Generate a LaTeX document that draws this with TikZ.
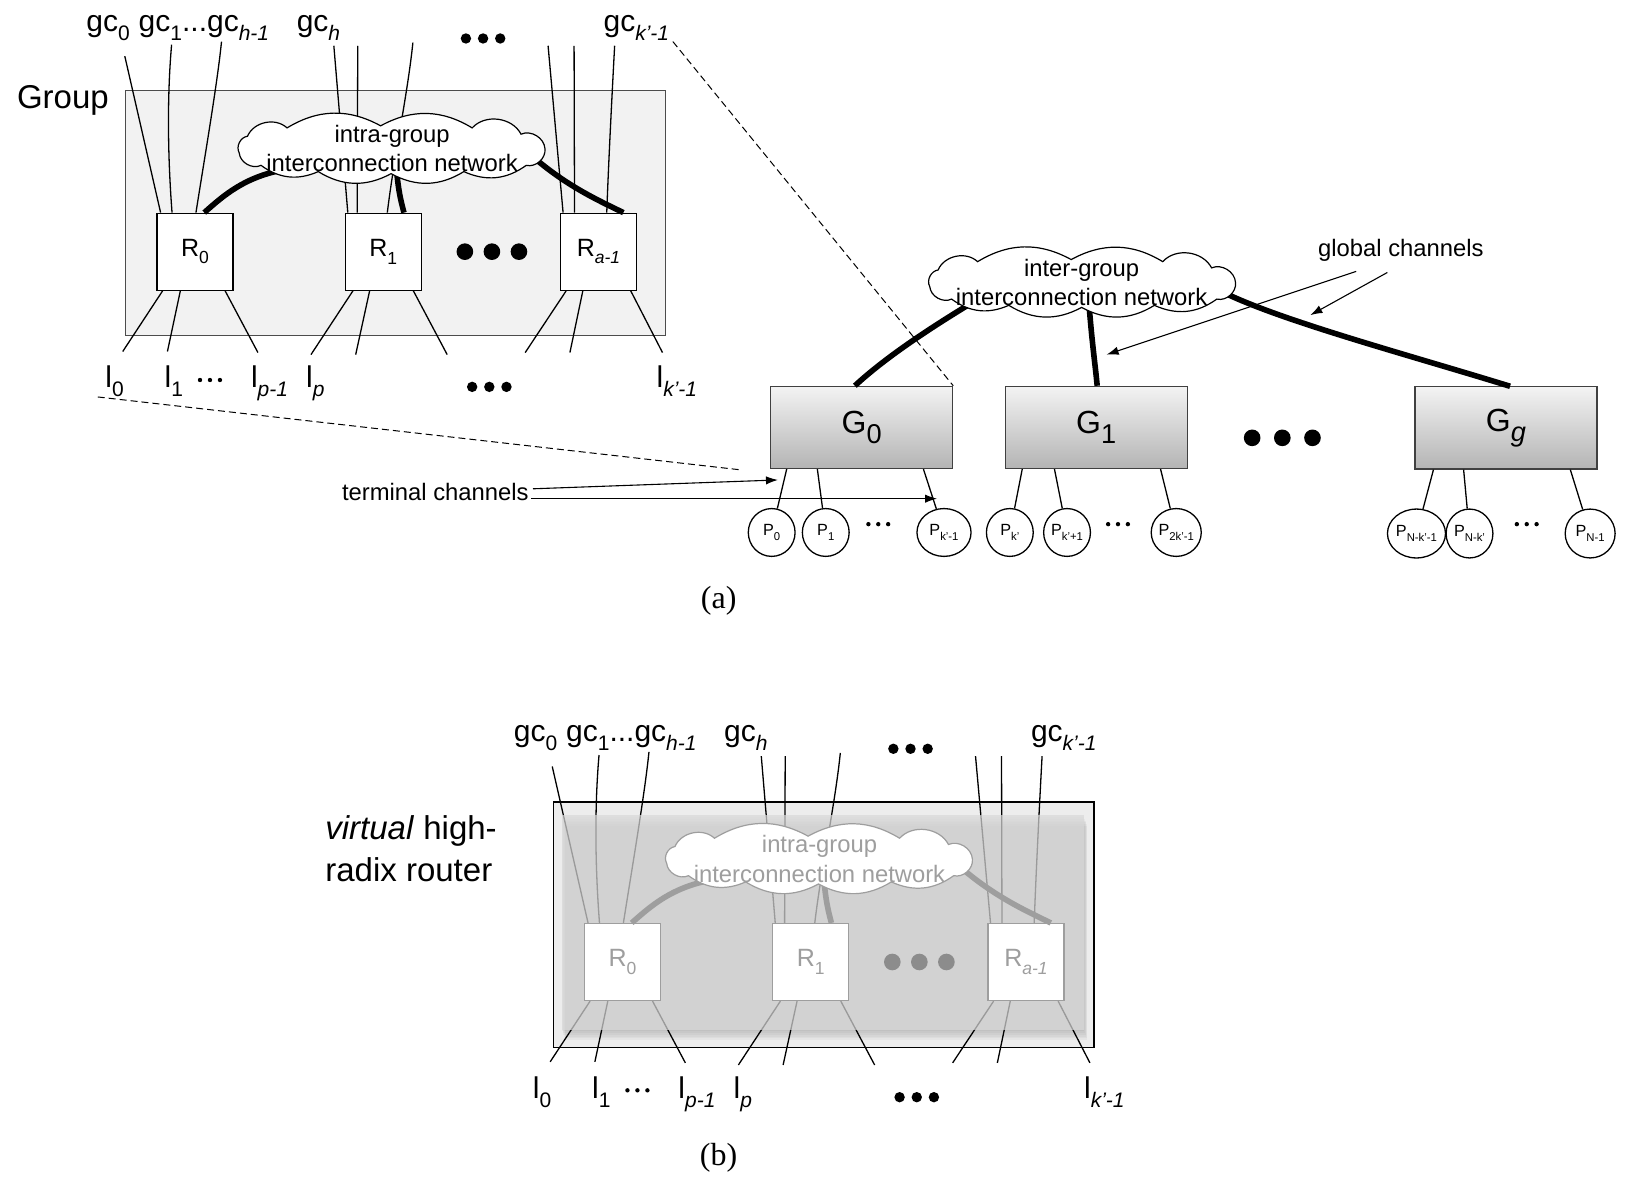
\documentclass[tikz,border=0pt]{standalone}
\usepackage{fontspec}
\setmainfont{Liberation Sans}
\newfontfamily\capfont{Liberation Serif}
\usetikzlibrary{shapes.geometric,arrows.meta,calc}
\pgfdeclarelayer{bg}
\pgfdeclarelayer{ovl}
\pgfdeclarelayer{fg}
\pgfsetlayers{bg,main,ovl,fg}
\newcommand*\upx{0.52pt}
\newcommand\dsub[1]{\raisebox{-0.3em}{\scalebox{0.7}{#1}}}
\newcommand\gsub[1]{\raisebox{-0.3em}{\scalebox{0.85}{#1}}}
\definecolor{grpfill}{HTML}{F2F2F2}
\definecolor{gtop}{HTML}{F3F3F3}
\definecolor{gbot}{HTML}{B4B4B4}
\definecolor{fadegray}{HTML}{9E9E9E}
\definecolor{dotgray}{HTML}{8C8C8C}
\definecolor{outerfill}{HTML}{EDEDED}
\definecolor{ovlfill}{HTML}{D9D9D9}
\tikzset{
  lbl/.style={inner sep=0, font=\fontsize{15}{18}\selectfont},
  biglbl/.style={inner sep=0, font=\fontsize{16.5}{20}\selectfont},
  chtxt/.style={inner sep=0, font=\fontsize{11.9}{14.6}\selectfont},
  captxt/.style={inner sep=0, font=\capfont\fontsize{16}{19}\selectfont},
  routerA/.style={draw=black, line width=0.6pt, fill=white, minimum width=73*\upx, minimum height=74*\upx, inner sep=0, font=\fontsize{12.5}{15}\selectfont},
  routerB/.style={routerA, draw=fadegray, text=fadegray},
  linkA/.style={line width=2.8pt},
  linkB/.style={linkA, draw=fadegray},
  cloudA/.style={draw=black, line width=0.6pt, fill=white},
  cloudB/.style={cloudA, draw=fadegray},
  nettxtA/.style={align=center, inner sep=0, font=\fontsize{11.9}{14.6}\selectfont},
  nettxtB/.style={nettxtA, text=fadegray},
  dotA/.style={fill=black},
  dotB/.style={fill=dotgray},
  wire/.style={line width=0.65pt},
  arr/.style={line width=0.55pt, -{Latex[length=6pt,width=4.2pt]}},
  gbox/.style={draw=black!75, line width=0.6pt, top color=gtop, bottom color=gbot, minimum width=175*\upx, minimum height=79*\upx, inner sep=0, font=\fontsize{16}{19}\selectfont},
  pnode/.style={ellipse, draw, line width=0.65pt, fill=white, minimum width=45*\upx, minimum height=46*\upx, inner sep=0, font=\fontsize{8.1}{10}\selectfont},
  puff/.style={bend left=30},
  endpuff/.style={bend left=55},
}
% cloud outline: #1 style, #2 cx, #3 cy
\newcommand\dfcloud[3]{%
  \path[#1] ({#2-146},{#3+4})
    to[endpuff] ({#2-138},{#3-12})
    to[endpuff] ({#2-100},{#3-20})
    to[puff] ({#2-10},{#3-22})
    to[puff] ({#2+78},{#3-20})
    to[endpuff] ({#2+125},{#3-14})
    to[endpuff] ({#2+148},{#3})
    to[endpuff] ({#2+130},{#3+16})
    to[puff] ({#2+70},{#3+22})
    to[puff] ({#2},{#3+24})
    to[puff] ({#2-70},{#3+22})
    to[puff] ({#2-125},{#3+16})
    to[endpuff] ({#2-146},{#3+4}) -- cycle;
}
% #1 prefix, #2 style tag, #3 dx, #4 dy
\newcommand\dfgroup[4]{%
\begin{pgfonlayer}{fg}
  \node[router#2] (#1R0) at ({#3+187.5},{#4+242}) {R\dsub{0}};
  \node[router#2] (#1R1) at ({#3+368.5},{#4+242}) {R\dsub{1}};
  \node[router#2] (#1Ra) at ({#3+575.5},{#4+242}) {R\dsub{\itshape a-1}};
  \coordinate (#1k0) at ({#3+274},{#4+163});
  \coordinate (#1k1) at ({#3+381},{#4+160});
  \coordinate (#1k2) at ({#3+508},{#4+147});
  \draw[link#2] ($(#1R0.north west)+(46,0)$) .. controls ({#3+215},{#4+188}) and ({#3+235},{#4+170}) .. (#1k0);
  \draw[link#2] (#1k1) .. controls ({#3+383},{#4+185}) and ({#3+386},{#4+195}) .. ($(#1R1.north west)+(57,0)$);
  \draw[link#2] (#1k2) .. controls ({#3+540},{#4+175}) and ({#3+565},{#4+188}) .. ($(#1Ra.north west)+(61,0)$);
  \dfcloud{cloud#2}{#3+376}{#4+143}
  \node[nettxt#2] (#1clt) at ({#3+377},{#4+143}) {intra-group\\interconnection network};
  \fill[dot#2] ({#3+447},{#4+242}) circle[radius=8*\upx] ({#3+473},{#4+242}) circle[radius=8*\upx] ({#3+499},{#4+242}) circle[radius=8*\upx];
\end{pgfonlayer}
  \coordinate (#1t1) at ({#3+120},{#4+54});
  \coordinate (#1t2) at ({#3+165},{#4+43});
  \coordinate (#1t3) at ({#3+213},{#4+40});
  \coordinate (#1t4) at ({#3+321},{#4+44});
  \coordinate (#1t5) at ({#3+344},{#4+44});
  \coordinate (#1t6) at ({#3+397},{#4+41});
  \coordinate (#1t7) at ({#3+527},{#4+44});
  \coordinate (#1t8) at ({#3+552},{#4+44});
  \coordinate (#1t9) at ({#3+591},{#4+44});
  \draw[wire] (#1t1) -- ($(#1R0.north west)+(4,0)$);
  \draw[wire] (#1t2) .. controls ({#3+160},{#4+100}) and ({#3+162},{#4+160}) .. ($(#1R0.north west)+(15,0)$);
  \draw[wire] (#1t3) .. controls ({#3+209},{#4+80}) and ({#3+197},{#4+150}) .. ($(#1R0.north west)+(38,0)$);
  \draw[wire] (#1t4) -- ($(#1R1.north west)+(3,0)$);
  \draw[wire] (#1t5) -- ($(#1R1.north west)+(12,0)$);
  \draw[wire] (#1t6) .. controls ({#3+392},{#4+90}) and ({#3+379},{#4+150}) .. ($(#1R1.north west)+(41,0)$);
  \draw[wire] (#1t7) -- ($(#1Ra.north west)+(3,0)$);
  \draw[wire] (#1t8) -- ($(#1Ra.north west)+(14,0)$);
  \draw[wire] (#1t9) .. controls ({#3+588},{#4+100}) and ({#3+585},{#4+160}) .. ($(#1Ra.north west)+(45,0)$);
  \coordinate (#1b1) at ({#3+118},{#4+338});
  \coordinate (#1b2) at ({#3+161},{#4+338});
  \coordinate (#1b3) at ({#3+248},{#4+339});
  \coordinate (#1b4) at ({#3+299},{#4+341});
  \coordinate (#1b5) at ({#3+342},{#4+341});
  \coordinate (#1b6) at ({#3+430},{#4+341});
  \coordinate (#1b7) at ({#3+505},{#4+339});
  \coordinate (#1b8) at ({#3+548},{#4+339});
  \coordinate (#1b9) at ({#3+637},{#4+339});
  \draw[wire] ($(#1R0.south west)+(6,0)$) -- (#1b1);
  \draw[wire] ($(#1R0.south west)+(23,0)$) -- (#1b2);
  \draw[wire] ($(#1R0.south west)+(66,0)$) -- (#1b3);
  \draw[wire] ($(#1R1.south west)+(8,0)$) -- (#1b4);
  \draw[wire] ($(#1R1.south west)+(24,0)$) -- (#1b5);
  \draw[wire] ($(#1R1.south west)+(66,0)$) -- (#1b6);
  \draw[wire] ($(#1Ra.south west)+(6,0)$) -- (#1b7);
  \draw[wire] ($(#1Ra.south west)+(22,0)$) -- (#1b8);
  \draw[wire] ($(#1Ra.south west)+(68,0)$) -- (#1b9);
  \node[lbl, anchor=base west] (#1gc0) at ({#3+82.7},{#4+30.4}) {gc\dsub{0}};
  \node[lbl, anchor=base west] (#1gc1) at ({#3+133},{#4+30.4}) {gc\dsub{1}...gc\dsub{\itshape h-1}};
  \node[lbl, anchor=base west] (#1gch) at ({#3+285},{#4+30.4}) {gc\dsub{\itshape h}};
  \node[lbl, anchor=base west] (#1gck) at ({#3+580},{#4+30.4}) {gc\dsub{\itshape k’-1}};
  \fill ({#3+448},{#4+37}) circle[radius=5*\upx] ({#3+464.5},{#4+37}) circle[radius=5*\upx] ({#3+481},{#4+37}) circle[radius=5*\upx];
  \node[lbl, anchor=base west] (#1l0) at ({#3+101},{#4+373}) {l\dsub{0}};
  \node[lbl, anchor=base west] (#1l1) at ({#3+158},{#4+373}) {l\dsub{1}};
  \node[lbl, anchor=base west] (#1lp1) at ({#3+241},{#4+373}) {l\dsub{\itshape p-1}};
  \node[lbl, anchor=base west] (#1lp) at ({#3+294},{#4+373}) {l\dsub{\itshape p}};
  \node[lbl, anchor=base west] (#1lk) at ({#3+631},{#4+373}) {l\dsub{\itshape k’-1}};
  \fill ({#3+192.3},{#4+365.4}) circle[radius=2.1*\upx] ({#3+201.9},{#4+365.4}) circle[radius=2.1*\upx] ({#3+211.5},{#4+365.4}) circle[radius=2.1*\upx];
  \fill ({#3+454},{#4+372}) circle[radius=5*\upx] ({#3+470.5},{#4+372}) circle[radius=5*\upx] ({#3+487},{#4+372}) circle[radius=5*\upx];
}
\begin{document}
\begin{tikzpicture}[x=0.52pt,y=-0.52pt]
\useasboundingbox (0,0) rectangle (1565.4,1145.2);
% ---------- (a) group ----------
\begin{pgfonlayer}{bg}
  \draw[draw=black!70, line width=0.5pt, fill=grpfill] (121,87) rectangle (640,323);
\end{pgfonlayer}
\node[biglbl, anchor=base west] (grouptxt) at (16,104) {Group};
\dfgroup{a}{A}{0}{0}
% ---------- (a) right ----------
\node[gbox] (G0) at (828.5,411) {G\gsub{0}};
\node[gbox] (G1) at (1054,411) {G\gsub{1}};
\node[gbox] (Gg) at (1448,411.5) {G\gsub{\itshape g}};
\begin{pgfonlayer}{fg}
  \dfcloud{cloudA}{1040}{271.6}
  \node[nettxtA] (iclt) at (1040,272) {inter-group\\interconnection network};
\end{pgfonlayer}
\coordinate (ik0) at (938,289);
\coordinate (ik1) at (1047,291);
\coordinate (ik2) at (1174,280);
\draw[linkA] (ik0) .. controls (890,318) and (850,345) .. ($(G0.north)+(-6.5,0)$);
\draw[linkA] (ik1) .. controls (1050,330) and (1053,350) .. ($(G1.north)+(1,0)$);
\draw[linkA] (ik2) .. controls (1230,308) and (1350,340) .. ($(Gg.north)+(4,0)$);
\fill (1204,421) circle[radius=8*\upx] (1233,421) circle[radius=8*\upx] (1262,421) circle[radius=8*\upx];
% dashed zoom lines
\coordinate (dz1) at (647,40);
\coordinate (dz2) at (94,381.7);
\coordinate (dz3) at (714,452);
\draw[line width=0.5pt, dash pattern=on 3.5pt off 2pt] (dz1) -- (G0.north east);
\draw[line width=0.5pt, dash pattern=on 3.5pt off 2pt] (dz2) -- (dz3);
% global channels
\node[chtxt, anchor=base] (globtxt) at (1347,247) {global channels};
\coordinate (ga1) at (1304,261);
\coordinate (ga1e) at (1064,341);
\coordinate (ga2) at (1334,262);
\coordinate (ga2e) at (1260,303);
\draw[arr] (ga1) -- (ga1e);
\draw[arr] (ga2) -- (ga2e);
% terminal channels
\node[chtxt, anchor=base west] (termtxt) at (328.5,481) {terminal channels};
\coordinate (ta1) at (512.5,470);
\coordinate (ta1e) at (748,461.5);
\coordinate (ta2) at (510.6,479.5);
\coordinate (ta2e) at (901,479.5);
\draw[arr] (ta1) -- (ta1e);
\draw[arr] (ta2) -- (ta2e);
% processors
\node[pnode] (P0) at (742,512) {P\dsub{0}};
\node[pnode] (P1) at (794,512) {P\dsub{1}};
\node[pnode, minimum width=52*\upx] (Pk1) at (907.7,512) {P\dsub{k’-1}};
\node[pnode] (Pk) at (971,512) {P\dsub{k’}};
\node[pnode] (Pkp) at (1026,512) {P\dsub{k’+1}};
\node[pnode] (P2k) at (1131,512) {P\dsub{2k’-1}};
\node[pnode, minimum width=54*\upx, minimum height=47*\upx] (PNk1) at (1362,513) {P\dsub{N-k’-1}};
\node[pnode, minimum height=47*\upx] (PNk) at (1413,513) {P\dsub{N-k’}};
\node[pnode, minimum width=48*\upx, minimum height=47*\upx] (PN1) at (1529,513) {P\dsub{N-1}};
\draw[wire] ($(G0.south west)+(16,0)$) -- (P0);
\draw[wire] ($(G0.south west)+(45.5,0)$) -- (P1);
\draw[wire] ($(G0.south west)+(147.5,0)$) -- (Pk1);
\draw[wire] ($(G1.south west)+(17,0)$) -- (Pk);
\draw[wire] ($(G1.south west)+(48,0)$) -- (Pkp);
\draw[wire] ($(G1.south west)+(150,0)$) -- (P2k);
\draw[wire] ($(Gg.south west)+(18.4,0)$) -- (PNk1);
\draw[wire] ($(Gg.south west)+(47.4,0)$) -- (PNk);
\draw[wire] ($(Gg.south west)+(150,0)$) -- (PN1);
\fill (835,504) circle[radius=2.1*\upx] (844.5,504) circle[radius=2.1*\upx] (854,504) circle[radius=2.1*\upx];
\fill (1065.5,504) circle[radius=2.1*\upx] (1075,504) circle[radius=2.1*\upx] (1084.5,504) circle[radius=2.1*\upx];
\fill (1458.5,504) circle[radius=2.1*\upx] (1468,504) circle[radius=2.1*\upx] (1477.5,504) circle[radius=2.1*\upx];
\node[captxt] (capa) at (691,578) {(a)};
% ---------- (b) ----------
\begin{pgfonlayer}{bg}
  \draw[black, line width=0.7pt, fill=outerfill] (532,771) rectangle (1052,1007);
\end{pgfonlayer}
\begin{pgfonlayer}{ovl}
  \foreach \k in {1,...,6}
    \fill[black, opacity=0.03] ({540+0.6*\k},{784+1.7*\k}) rectangle ({1042+0.6*\k},{990+1.7*\k});
  \fill[ovlfill, opacity=0.71] (540,784) rectangle (1042,990);
\end{pgfonlayer}
\dfgroup{b}{B}{411}{683}
\node[biglbl, anchor=base west] (virt1) at (312.5,807) {\textit{virtual} high-};
\node[biglbl, anchor=base west] (virt2) at (312.5,848) {radix router};
\node[captxt] (capb) at (691,1113) {(b)};
\end{tikzpicture}
\end{document}
